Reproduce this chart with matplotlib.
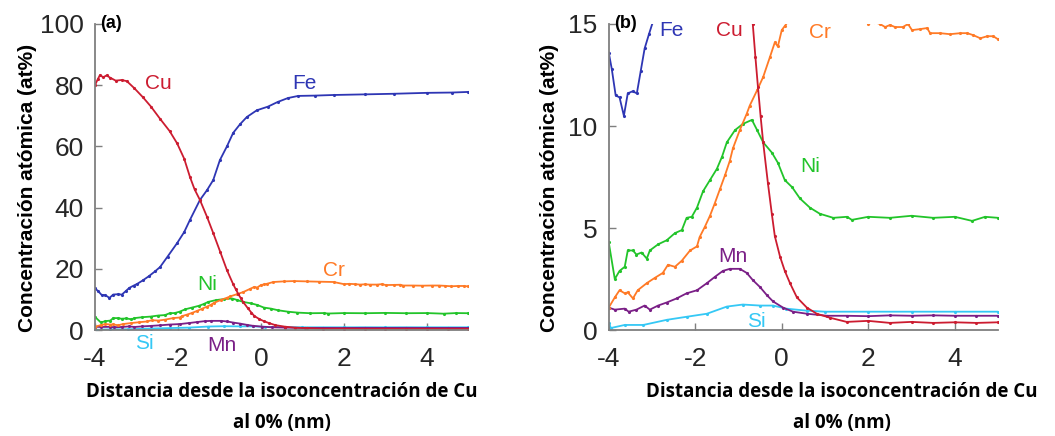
import matplotlib
matplotlib.use("Agg")
import matplotlib.pyplot as plt

plt.rcParams['axes.unicode_minus'] = False

# Perfiles de concentración (at%) frente a distancia (nm)
fe_x = [-4.0, -3.93, -3.84, -3.75, -3.65, -3.56, -3.45, -3.35, -3.26, -3.17, -3.07, -2.98,
        -2.85, -2.7, -2.55, -2.43, -2.25, -2.02, -1.85, -1.71, -1.47, -1.3, -1.15, -0.99,
        -0.82, -0.67, -0.5, -0.34, -0.1, 0.17, 0.4, 0.65, 0.9, 1.3, 1.75, 2.5, 3.2, 4.0, 4.6, 5.0]
fe_y = [13.6, 12.8, 11.5, 11.4, 10.5, 11.6, 11.7, 11.6, 12.7, 13.8, 14.5, 15.1,
        16.2, 17.6, 19.2, 20.6, 24.0, 28.4, 32.0, 36.0, 42.5, 45.7, 49.0, 55.5,
        60.0, 64.4, 67.3, 69.6, 71.8, 73.0, 74.5, 75.8, 76.5, 76.6, 76.8, 77.0, 77.2, 77.5, 77.6, 77.8]

cu_x = [-4.0, -3.93, -3.88, -3.8, -3.72, -3.64, -3.5, -3.35, -3.23, -3.05, -2.84, -2.65,
        -2.43, -2.2, -2.02, -1.85, -1.71, -1.6, -1.47, -1.3, -1.15, -0.98, -0.82, -0.67,
        -0.61, -0.55, -0.49, -0.43, -0.32, -0.23, -0.16, -0.04, 0.07, 0.19, 0.35, 0.58,
        0.81, 1.12, 1.5, 2.0, 2.5, 3.0, 3.5, 4.0, 4.5, 5.0]
cu_y = [80.0, 82.0, 83.3, 82.6, 83.2, 82.5, 81.5, 81.7, 81.3, 79.0, 76.0, 73.0,
        69.0, 65.0, 61.0, 56.0, 50.0, 46.0, 42.5, 37.0, 31.7, 25.5, 19.6, 15.0,
        13.4, 11.9, 10.5, 9.2, 7.2, 5.7, 4.6, 3.6, 2.9, 2.3, 1.6, 1.1,
        0.8, 0.6, 0.4, 0.45, 0.35, 0.4, 0.35, 0.38, 0.35, 0.38]

cr_x = [-4.0, -3.86, -3.75, -3.63, -3.56, -3.44, -3.33, -3.12, -2.94, -2.75, -2.63, -2.47,
        -2.31, -2.12, -1.96, -1.9, -1.78, -1.66, -1.55, -1.43, -1.31, -1.2, -1.13, -0.97,
        -0.81, -0.74, -0.57, -0.43, -0.27, -0.16, -0.09, 0.0, 0.07, 0.14, 0.3, 0.55,
        0.8, 1.1, 1.4, 1.75, 2.0, 2.13, 2.27, 2.39, 2.5, 2.62, 2.8, 2.92, 3.01, 3.2,
        3.36, 3.43, 3.66, 3.89, 4.13, 4.29, 4.43, 4.59, 4.75, 4.89, 5.0]
cr_y = [1.1, 1.6, 1.95, 1.8, 1.85, 1.55, 1.95, 2.3, 2.55, 2.8, 3.2, 3.1,
        3.4, 3.9, 4.1, 4.55, 5.05, 5.6, 6.2, 6.9, 7.6, 8.3, 8.9, 9.8,
        10.6, 11.0, 11.75, 12.4, 13.4, 14.1, 13.9, 14.7, 14.9, 15.1, 15.7, 15.9,
        16.0, 15.9, 15.8, 15.7, 15.0, 15.1, 15.0, 14.85, 14.95, 14.85, 14.85, 15.0, 14.7, 14.75,
        14.8, 14.55, 14.55, 14.5, 14.55, 14.55, 14.45, 14.3, 14.4, 14.4, 14.25]

ni_x = [-4.0, -3.86, -3.75, -3.63, -3.56, -3.44, -3.36, -3.24, -3.12, -3.05, -2.86, -2.66,
        -2.47, -2.31, -2.2, -2.08, -1.96, -1.82, -1.66, -1.5, -1.38, -1.27, -1.08, -0.9,
        -0.69, -0.57, -0.43, -0.23, -0.09, 0.07, 0.24, 0.42, 0.65, 0.88, 1.19, 1.51,
        1.62, 2.0, 2.5, 3.0, 3.5, 4.0, 4.4, 4.7, 5.0]
ni_y = [4.3, 2.5, 2.9, 3.1, 3.9, 3.9, 3.7, 3.8, 3.5, 3.9, 4.2, 4.4,
        4.75, 4.9, 5.5, 5.55, 6.0, 6.8, 7.35, 7.9, 8.5, 9.2, 9.8, 10.1,
        10.3, 9.8, 9.2, 8.7, 8.2, 7.35, 7.0, 6.45, 6.0, 5.7, 5.5, 5.55,
        5.4, 5.55, 5.5, 5.6, 5.5, 5.55, 5.35, 5.55, 5.5]

mn_x = [-4.0, -3.86, -3.63, -3.54, -3.36, -3.17, -3.05, -2.86, -2.66, -2.43, -2.2, -1.96,
        -1.73, -1.55, -1.36, -1.2, -0.97, -0.81, -0.67, -0.5, -0.34, -0.2, 0.03, 0.26,
        0.58, 1.05, 1.5, 2.0, 2.5, 3.0, 3.5, 4.0, 4.5, 5.0]
mn_y = [1.1, 1.0, 1.05, 0.9, 1.0, 1.2, 1.0, 1.2, 1.35, 1.55, 1.8, 1.95,
        2.3, 2.6, 2.9, 3.0, 3.0, 2.8, 2.45, 2.1, 1.7, 1.4, 1.1, 0.9,
        0.8, 0.7, 0.7, 0.68, 0.72, 0.7, 0.72, 0.7, 0.7, 0.7]

si_x = [-4.0, -3.95, -3.63, -3.2, -2.66, -2.2, -1.73, -1.27, -0.9, -0.5, -0.2, 0.1,
        0.58, 1.0, 2.0, 3.0, 4.0, 5.0]
si_y = [0.35, 0.1, 0.25, 0.25, 0.5, 0.65, 0.8, 1.15, 1.25, 1.2, 1.2, 1.05,
        0.95, 0.9, 0.9, 0.9, 0.9, 0.9]

x_ticks = [-4, -2, 0, 2, 4]
ylabel = 'Concentración atómica (at%)'
xlabel = 'Distancia desde la isoconcentración de Cu\nal 0% (nm)'

series = [
    ('Si', si_x, si_y, '#35c8f5'),
    ('Mn', mn_x, mn_y, '#7a1f86'),
    ('Ni', ni_x, ni_y, '#22c42a'),
    ('Cr', cr_x, cr_y, '#ff7a26'),
    ('Fe', fe_x, fe_y, '#2e36b4'),
    ('Cu', cu_x, cu_y, '#cc1c30'),
]
colors = {name: c for name, _, _, c in series}

# etiquetas de cada elemento (posición en datos)
labels_a = {'Cu': (-2.48, 80.4), 'Fe': (1.06, 80.4), 'Cr': (1.75, 19.6),
            'Ni': (-1.3, 15.0), 'Si': (-2.8, -4.3), 'Mn': (-0.94, -4.9)}
labels_b = {'Fe': (-2.55, 14.7), 'Cu': (-1.22, 14.7), 'Cr': (0.88, 14.6),
            'Ni': (0.65, 8.0), 'Mn': (-1.13, 3.6), 'Si': (-0.58, 0.4)}

fig = plt.figure(figsize=(10.55, 4.36), dpi=100)
ax_a = fig.add_axes([0.090, 0.243, 0.354, 0.702])
ax_b = fig.add_axes([0.577, 0.243, 0.369, 0.702])


def style(ax, ymax, yticks, ylab_x):
    for name, xs, ys, c in series:
        ax.plot(xs, ys, '-', color=c, lw=1.3, marker='.', ms=2.5)
    ax.set_xlim(-4, 5)
    ax.set_ylim(0, ymax)
    ax.set_xticks(x_ticks)
    ax.set_yticks(yticks)
    for s in ['top', 'right']:
        ax.spines[s].set_visible(False)
    for s in ['left', 'bottom']:
        ax.spines[s].set_color('#7f7f7f')
        ax.spines[s].set_linewidth(1.3)
    ax.tick_params(direction='in', length=5, width=1, color='#7f7f7f',
                   labelsize=19, labelcolor='#262626')
    ax.tick_params(axis='x', pad=12)
    ax.tick_params(axis='y', pad=8)
    for lab in ax.get_xticklabels() + ax.get_yticklabels():
        lab.set_family('Liberation Sans')
    ax.set_ylabel(ylabel, fontsize=15, fontweight='bold', family='Liberation Sans')
    ax.yaxis.set_label_coords(ylab_x, 0.464)


style(ax_a, 100, [0, 20, 40, 60, 80, 100], -0.155)
style(ax_b, 15, [0, 5, 10, 15], -0.1285)

for ax, labels in [(ax_a, labels_a), (ax_b, labels_b)]:
    for name, (lx, ly) in labels.items():
        ax.text(lx, ly, name, color=colors[name], fontsize=15, family='Liberation Sans',
                ha='center', va='center', clip_on=False)

ax_a.text(0.015, 1.0, '(a)', transform=ax_a.transAxes, fontsize=13, fontweight='bold',
          family='Liberation Sans', va='center', ha='left')
ax_b.text(0.015, 1.0, '(b)', transform=ax_b.transAxes, fontsize=13, fontweight='bold',
          family='Liberation Sans', va='center', ha='left')

fig.text(0.267, 0.066, xlabel, ha='center', va='center', fontsize=13.5,
         fontweight='bold', family='Open Sans', linespacing=1.72)
fig.text(0.798, 0.066, xlabel, ha='center', va='center', fontsize=13.5,
         fontweight='bold', family='Open Sans', linespacing=1.72)

fig.savefig('out.png', dpi=100)
